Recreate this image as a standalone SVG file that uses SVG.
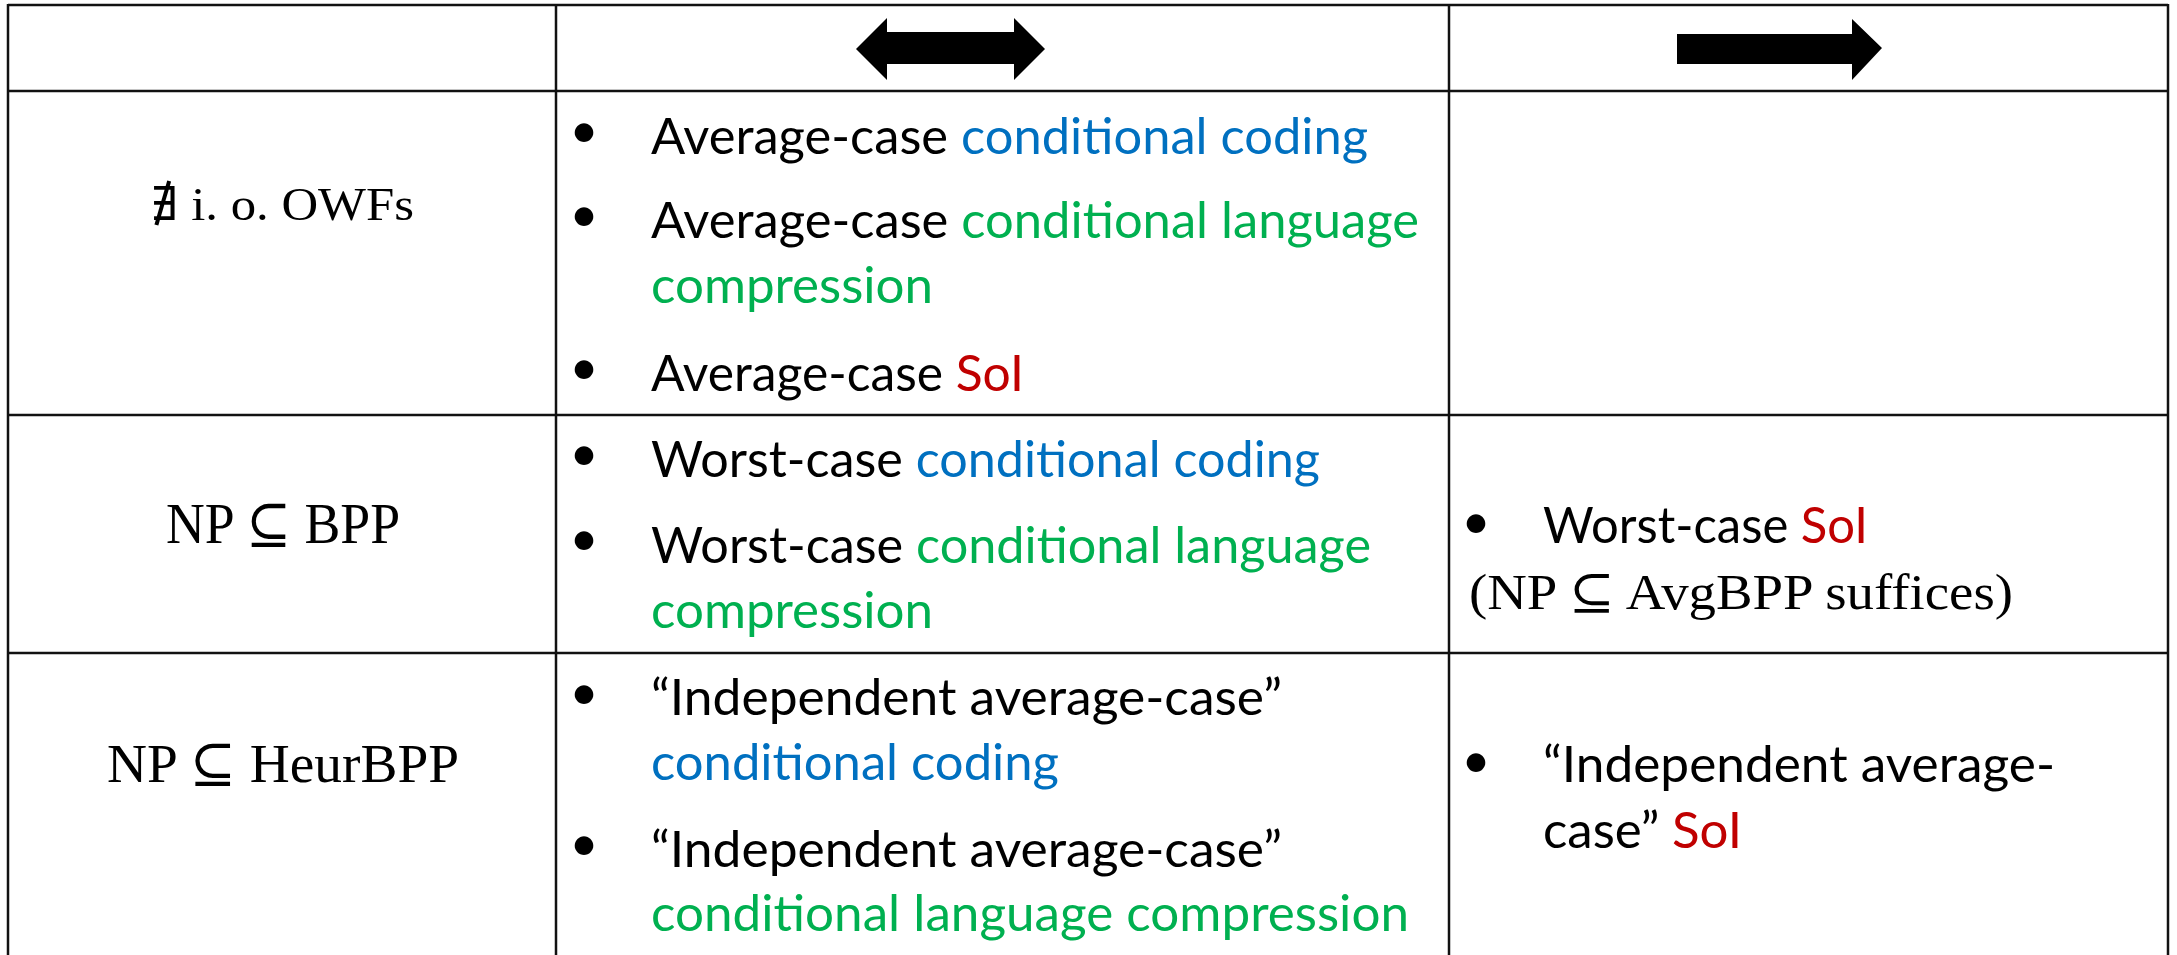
<svg xmlns="http://www.w3.org/2000/svg" width="2177" height="955" viewBox="0 0 2177 955">
<style>
.grid{stroke:#111;stroke-width:2.5;fill:none}
.t{font-family:Lato,"Open Sans","Liberation Sans",sans-serif;font-size:50px;fill:#000}
.m{font-family:"Liberation Serif","DejaVu Serif",serif;fill:#000}
.b{fill:#0070C0}
.g{fill:#00B050}
.r{fill:#C00000}
.bul{font-family:Lato,"Liberation Sans",sans-serif;font-size:50px;fill:#000;text-anchor:middle}
</style>
<rect width="2177" height="955" fill="#fff"/>
<g id="grid">
<line class="grid" x1="8" y1="5" x2="2168" y2="5"/>
<line class="grid" x1="8" y1="91" x2="2168" y2="91"/>
<line class="grid" x1="8" y1="415" x2="2168" y2="415"/>
<line class="grid" x1="8" y1="653" x2="2168" y2="653"/>
<line class="grid" x1="8" y1="4" x2="8" y2="955"/>
<line class="grid" x1="556" y1="4" x2="556" y2="955"/>
<line class="grid" x1="1449" y1="4" x2="1449" y2="955"/>
<line class="grid" x1="2168" y1="4" x2="2168" y2="955"/>
</g>
<g id="connectors">
<polygon id="arrow-both" fill="#000" points="856,49 887,18 887,32 1014,32 1014,18 1045,49 1014,80 1014,64 887,64 887,80"/>
<polygon id="arrow-right" fill="#000" points="1677,34 1852,34 1852,19 1882,48 1852,80 1852,64 1677,64"/>
</g>
<g id="row1-label">
<text class="m" x="151" y="220" font-size="47" textLength="263" lengthAdjust="spacingAndGlyphs">∄ i. o. OWFs</text>
</g>
<g id="row1-equiv">
<text class="bul" x="584" y="148">•</text>
<text class="t" x="651" y="154" textLength="717" lengthAdjust="spacingAndGlyphs">Average-case <tspan class="b">conditional coding</tspan></text>
<text class="bul" x="584" y="232">•</text>
<text class="t" x="651" y="238" textLength="768" lengthAdjust="spacingAndGlyphs">Average-case <tspan class="g">conditional language</tspan></text>
<text class="t g" x="651" y="303" textLength="282" lengthAdjust="spacingAndGlyphs">compression</text>
<text class="bul" x="584" y="385">•</text>
<text class="t" x="651" y="391" textLength="373" lengthAdjust="spacingAndGlyphs">Average-case <tspan class="r">SoI</tspan></text>
</g>
<g id="row1-implies"></g>
<g id="row2-label">
<text class="m" x="166" y="543" font-size="56" textLength="234" lengthAdjust="spacingAndGlyphs">NP ⊆ BPP</text>
</g>
<g id="row2-equiv">
<text class="bul" x="584" y="471">•</text>
<text class="t" x="651" y="477" textLength="669" lengthAdjust="spacingAndGlyphs">Worst-case <tspan class="b">conditional coding</tspan></text>
<text class="bul" x="584" y="556">•</text>
<text class="t" x="651" y="563" textLength="720" lengthAdjust="spacingAndGlyphs">Worst-case <tspan class="g">conditional language</tspan></text>
<text class="t g" x="651" y="628" textLength="282" lengthAdjust="spacingAndGlyphs">compression</text>
</g>
<g id="row2-implies">
<text class="bul" x="1476" y="539">•</text>
<text class="t" x="1543" y="543" textLength="325" lengthAdjust="spacingAndGlyphs">Worst-case <tspan class="r">SoI</tspan></text>
<text class="m" x="1469" y="609" font-size="50" textLength="544" lengthAdjust="spacingAndGlyphs">(NP ⊆ AvgBPP suffices)</text>
</g>
<g id="row3-label">
<text class="m" x="107" y="782" font-size="55" textLength="352" lengthAdjust="spacingAndGlyphs">NP ⊆ HeurBPP</text>
</g>
<g id="row3-equiv">
<text class="bul" x="584" y="710">•</text>
<text class="t" x="651" y="715" textLength="631" lengthAdjust="spacingAndGlyphs">“Independent average-case”</text>
<text class="t b" x="651" y="780" textLength="408" lengthAdjust="spacingAndGlyphs">conditional coding</text>
<text class="bul" x="584" y="861">•</text>
<text class="t" x="651" y="867" textLength="631" lengthAdjust="spacingAndGlyphs">“Independent average-case”</text>
<text class="t g" x="651" y="931" textLength="758" lengthAdjust="spacingAndGlyphs">conditional language compression</text>
</g>
<g id="row3-implies">
<text class="bul" x="1476" y="778">•</text>
<text class="t" x="1543" y="782" textLength="512" lengthAdjust="spacingAndGlyphs">“Independent average-</text>
<text class="t" x="1543" y="848" textLength="199" lengthAdjust="spacingAndGlyphs">case” <tspan class="r">SoI</tspan></text>
</g>
</svg>
